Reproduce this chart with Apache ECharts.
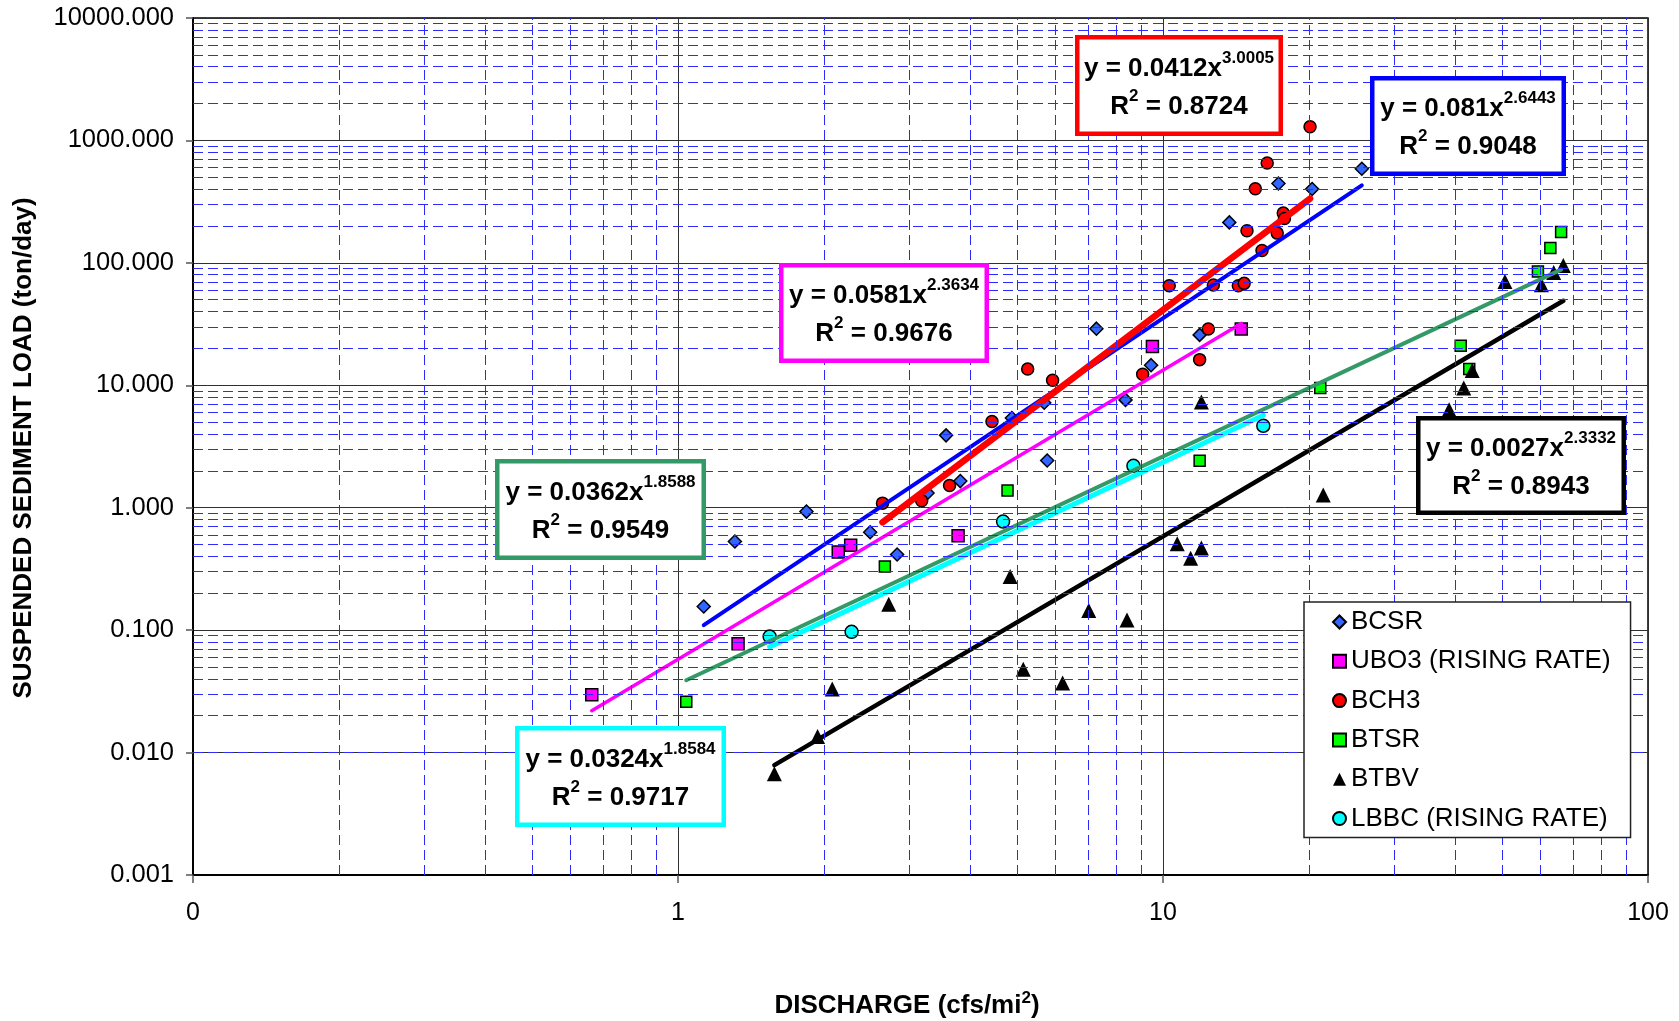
<!DOCTYPE html>
<html><head><meta charset="utf-8">
<script src="https://cdn.jsdelivr.net/npm/echarts@6/dist/echarts.min.js"></script>
<style>html,body{margin:0;padding:0;background:#fff}#c{width:1679px;height:1021px}</style>
</head><body><div id="c"></div><script>
const FONT = '"Liberation Sans", Arial, sans-serif';

// ---- data ----
const bcsrX = [1.13, 1.31, 1.84, 2.49, 2.83, 3.27, 3.57, 3.82, 4.88, 5.69, 5.77, 7.29, 8.37, 9.45, 11.9, 13.7, 17.3, 20.3, 25.7];
const bcsrY = [0.156, 0.53, 0.93, 0.63, 0.415, 1.32, 3.9, 1.65, 5.4, 7.2, 2.43, 29, 7.6, 14.6, 25.8, 214, 445, 401, 587];
const ubo3X = [0.664, 1.33, 2.14, 2.27, 3.78, 9.51, 14.5];
const ubo3Y = [0.0296, 0.0773, 0.434, 0.494, 0.589, 20.7, 28.8];
const bch3X = [2.64, 3.18, 3.63, 4.44, 5.26, 5.92, 9.08, 10.3, 11.9, 12.4, 12.7, 14.3, 14.7, 14.9, 15.5, 16.0, 16.4, 17.2, 17.7, 17.8, 20.1];
const bch3Y = [1.09, 1.14, 1.52, 5.06, 13.6, 11.0, 12.3, 65, 16.2, 28.8, 66, 65, 68, 183, 403, 126, 653, 175, 255, 230, 1294];
const btsrX = [1.04, 2.67, 4.78, 11.9, 21.1, 41.1, 42.8, 59.3, 62.9, 66.2];
const btsrY = [0.026, 0.331, 1.38, 2.42, 9.49, 21.0, 13.6, 85, 132, 179];
const btbvX = [1.58, 1.94, 2.08, 2.72, 4.84, 5.15, 6.21, 7.03, 8.43, 10.7, 11.4, 12.0, 12.0, 21.4, 38.9, 41.7, 43.4, 50.7, 60.3, 63.9, 66.9];
const btbvY = [0.0067, 0.0135, 0.033, 0.163, 0.274, 0.048, 0.037, 0.145, 0.121, 0.507, 0.387, 0.468, 7.29, 1.27, 6.31, 9.49, 13.2, 70.5, 66.3, 83.5, 95.2];
const lbbcX = [1.545, 2.28, 4.68, 8.69, 16.1];
const lbbcY = [0.0887, 0.0969, 0.771, 2.20, 4.67];

// trendline end points (straight on log-log axes)
const bcsrTrendX = [1.13, 25.7],  bcsrTrendY = [0.11, 430];
const ubo3TrendX = [0.664, 14.5], ubo3TrendY = [0.022, 32];
const bch3TrendX = [2.64, 20.1],  bch3TrendY = [0.76, 335];
const btsrTrendX = [1.04, 66.2],  btsrTrendY = [0.039, 88];
const btbvTrendX = [1.58, 66.9],  btbvTrendY = [0.0079, 49];
const lbbcTrendX = [1.545, 16.1], lbbcTrendY = [0.073, 5.7];

// equation labels
const eqCoef = ['0.081', '0.0581', '0.0412', '0.0362', '0.0027', '0.0324'];
const eqExp  = ['2.6443', '2.3634', '3.0005', '1.8588', '2.3332', '1.8584'];
const eqR2   = ['0.9048', '0.9676', '0.8724', '0.9549', '0.8943', '0.9717'];

// tick labels
const xTickValues = [0.1, 1, 10, 100];
const xTickLabels = ['0', '1', '10', '100'];
const yTickValues = [0.001, 0.01, 0.1, 1, 10, 100, 1000, 10000];
const yTickLabels = ['0.001', '0.010', '0.100', '1.000', '10.000', '100.000', '1000.000', '10000.000'];

const seriesNames = ['BCSR', 'UBO3 (RISING RATE)', 'BCH3', 'BTSR', 'BTBV', 'LBBC (RISING RATE)'];

// ---- build ----
const zip = (xs, ys) => xs.map((x, i) => [x, ys[i]]);
const nearestLabel = (vals, labels, v) => {
  let best = 0;
  for (let i = 1; i < vals.length; i++) {
    if (Math.abs(Math.log10(vals[i]) - Math.log10(v)) < Math.abs(Math.log10(vals[best]) - Math.log10(v))) best = i;
  }
  return labels[best];
};
const minorMult = [2, 3, 4, 5, 6, 7, 8, 9];
const minorOf = (decades) => decades.flatMap(d => minorMult.map(m => +(m * d).toPrecision(3)));
const minorX = minorOf([0.1, 1, 10]);
const minorY = minorOf([0.001, 0.01, 0.1, 1, 10, 100, 1000]);

const border = { borderColor: '#000', borderWidth: 1.5 };
function scatter(name, xs, ys, symbol, size, color, withBorder) {
  return {
    type: 'scatter', name, data: zip(xs, ys), symbol, symbolSize: size, z: 3,
    itemStyle: Object.assign({ color, opacity: 1 }, withBorder ? border : {}),
    emphasis: { disabled: true }
  };
}
function trend(xs, ys, color, width) {
  return {
    type: 'line', data: zip(xs, ys), showSymbol: false, symbol: 'none', z: 4,
    lineStyle: { color, width, cap: 'round' }, silent: true
  };
}
const gridLineStyle = { color: '#2b2bff', width: 1, type: [10, 5] };

const series = [
  {
    type: 'scatter', data: [], z: 1, silent: true,
    markLine: {
      silent: true, symbol: ['none', 'none'], label: { show: false }, animation: false,
      lineStyle: gridLineStyle, emphasis: { disabled: true },
      data: minorX.map(v => ({ xAxis: v })).concat(minorY.map(v => ({ yAxis: v })))
    }
  },
  scatter(seriesNames[0], bcsrX, bcsrY, 'diamond', 13, '#3366ff', true),
  scatter(seriesNames[1], ubo3X, ubo3Y, 'rect', 12, '#ff00ff', true),
  scatter(seriesNames[2], bch3X, bch3Y, 'circle', 12, '#ff0000', true),
  scatter(seriesNames[3], btsrX, btsrY, 'rect', 11, '#00ff00', true),
  scatter(seriesNames[4], btbvX, btbvY, 'triangle', 15, '#000000', false),
  scatter(seriesNames[5], lbbcX, lbbcY, 'circle', 13, '#00ffff', true),
  trend(bcsrTrendX, bcsrTrendY, '#0000ff', 4),
  trend(ubo3TrendX, ubo3TrendY, '#ff00ff', 3.5),
  trend(btsrTrendX, btsrTrendY, '#339966', 4),
  trend(lbbcTrendX, lbbcTrendY, '#00ffff', 5),
  trend(btbvTrendX, btbvTrendY, '#000000', 4.5),
  trend(bch3TrendX, bch3TrendY, '#ff0000', 6.5)
];

const richEq = {
  m: { fontSize: 26, fontWeight: 'bold', fontFamily: FONT, lineHeight: 38, fill: '#000' },
  s: { fontSize: 17, fontWeight: 'bold', fontFamily: FONT, lineHeight: 18, verticalAlign: 'top', fill: '#000' }
};
function eqBox(x0, y0, x1, y1, color, i) {
  const lw = 4.5;
  return {
    type: 'group', z: 100,
    children: [
      { type: 'rect', z: 100, shape: { x: x0 + lw / 2, y: y0 + lw / 2, width: x1 - x0 - lw, height: y1 - y0 - lw },
        style: { fill: '#fff', stroke: color, lineWidth: lw } },
      { type: 'text', z: 101, x: (x0 + x1) / 2, y: (y0 + y1) / 2 + 2,
        style: { text: '{m|y = ' + eqCoef[i] + 'x}{s|' + eqExp[i] + '}\n{m|R}{s|2}{m| = ' + eqR2[i] + '}',
                 rich: richEq, align: 'center', verticalAlign: 'middle', fill: '#000' } }
    ]
  };
}

const graphic = [
  eqBox(1370, 76, 1566, 176, '#0000ff', 0),
  eqBox(779, 263, 989, 363, '#ff00ff', 1),
  eqBox(1075, 35, 1283, 136, '#ff0000', 2),
  eqBox(495, 459, 706, 560, '#339966', 3),
  eqBox(1416, 416, 1626, 515, '#000000', 4),
  eqBox(515, 726, 726, 827, '#00ffff', 5),
  { type: 'text', x: 24, y: 448, rotation: Math.PI / 2, z: 100,
    style: { text: 'SUSPENDED SEDIMENT LOAD (ton/day)', font: 'bold 26px ' + FONT, fill: '#000', align: 'center', verticalAlign: 'middle' } },
  { type: 'text', x: 907, y: 1006, z: 100,
    style: { text: '{a|DISCHARGE (cfs/mi}{s|2}{a|)}', align: 'center', verticalAlign: 'middle', fill: '#000',
      rich: {
        a: { fontSize: 26, fontWeight: 'bold', fontFamily: FONT, lineHeight: 32, fill: '#000' },
        s: { fontSize: 17, fontWeight: 'bold', fontFamily: FONT, lineHeight: 16, verticalAlign: 'top', fill: '#000' }
      } } }
];

const option = {
  animation: false,
  backgroundColor: '#fff',
  grid: { left: 193, top: 18, width: 1455, height: 857, show: true, borderColor: '#000', borderWidth: 1.5, backgroundColor: 'transparent' },
  xAxis: {
    type: 'log', logBase: 10, min: 0.1, max: 100, splitNumber: 3,
    axisLine: { show: true, onZero: false, lineStyle: { color: '#000', width: 2 } },
    axisTick: { show: true, length: 8, lineStyle: { color: '#555', width: 1.5 } },
    axisLabel: { margin: 26, fontSize: 25, fontFamily: FONT, color: '#000',
      formatter: v => nearestLabel(xTickValues, xTickLabels, v) },
    splitLine: { show: true, lineStyle: { color: '#303030', width: 1 } },
    minorTick: { show: false }, minorSplitLine: { show: false }
  },
  yAxis: {
    type: 'log', logBase: 10, min: 0.001, max: 10000, splitNumber: 7,
    axisLine: { show: true, onZero: false, lineStyle: { color: '#000', width: 2 } },
    axisTick: { show: true, length: 7, lineStyle: { color: '#555', width: 1.5 } },
    axisLabel: { margin: 19, fontSize: 25.5, fontFamily: FONT, color: '#000',
      formatter: v => nearestLabel(yTickValues, yTickLabels, v) },
    splitLine: { show: true, lineStyle: { color: '#303030', width: 1 } },
    minorTick: { show: false }, minorSplitLine: { show: false }
  },
  legend: {
    orient: 'vertical', left: 1304, top: 602, padding: [5, 20, 4, 28], itemGap: 9.3,
    itemWidth: 13, itemHeight: 13, backgroundColor: '#fff', borderColor: '#222', borderWidth: 1.5,
    textStyle: { fontSize: 26, fontFamily: FONT, color: '#000', lineHeight: 30 },
    data: seriesNames, z: 50, selectedMode: false
  },
  graphic,
  series
};

const chart = echarts.init(document.getElementById('c'), null, { renderer: 'canvas' });
chart.setOption(option);
</script></body></html>
